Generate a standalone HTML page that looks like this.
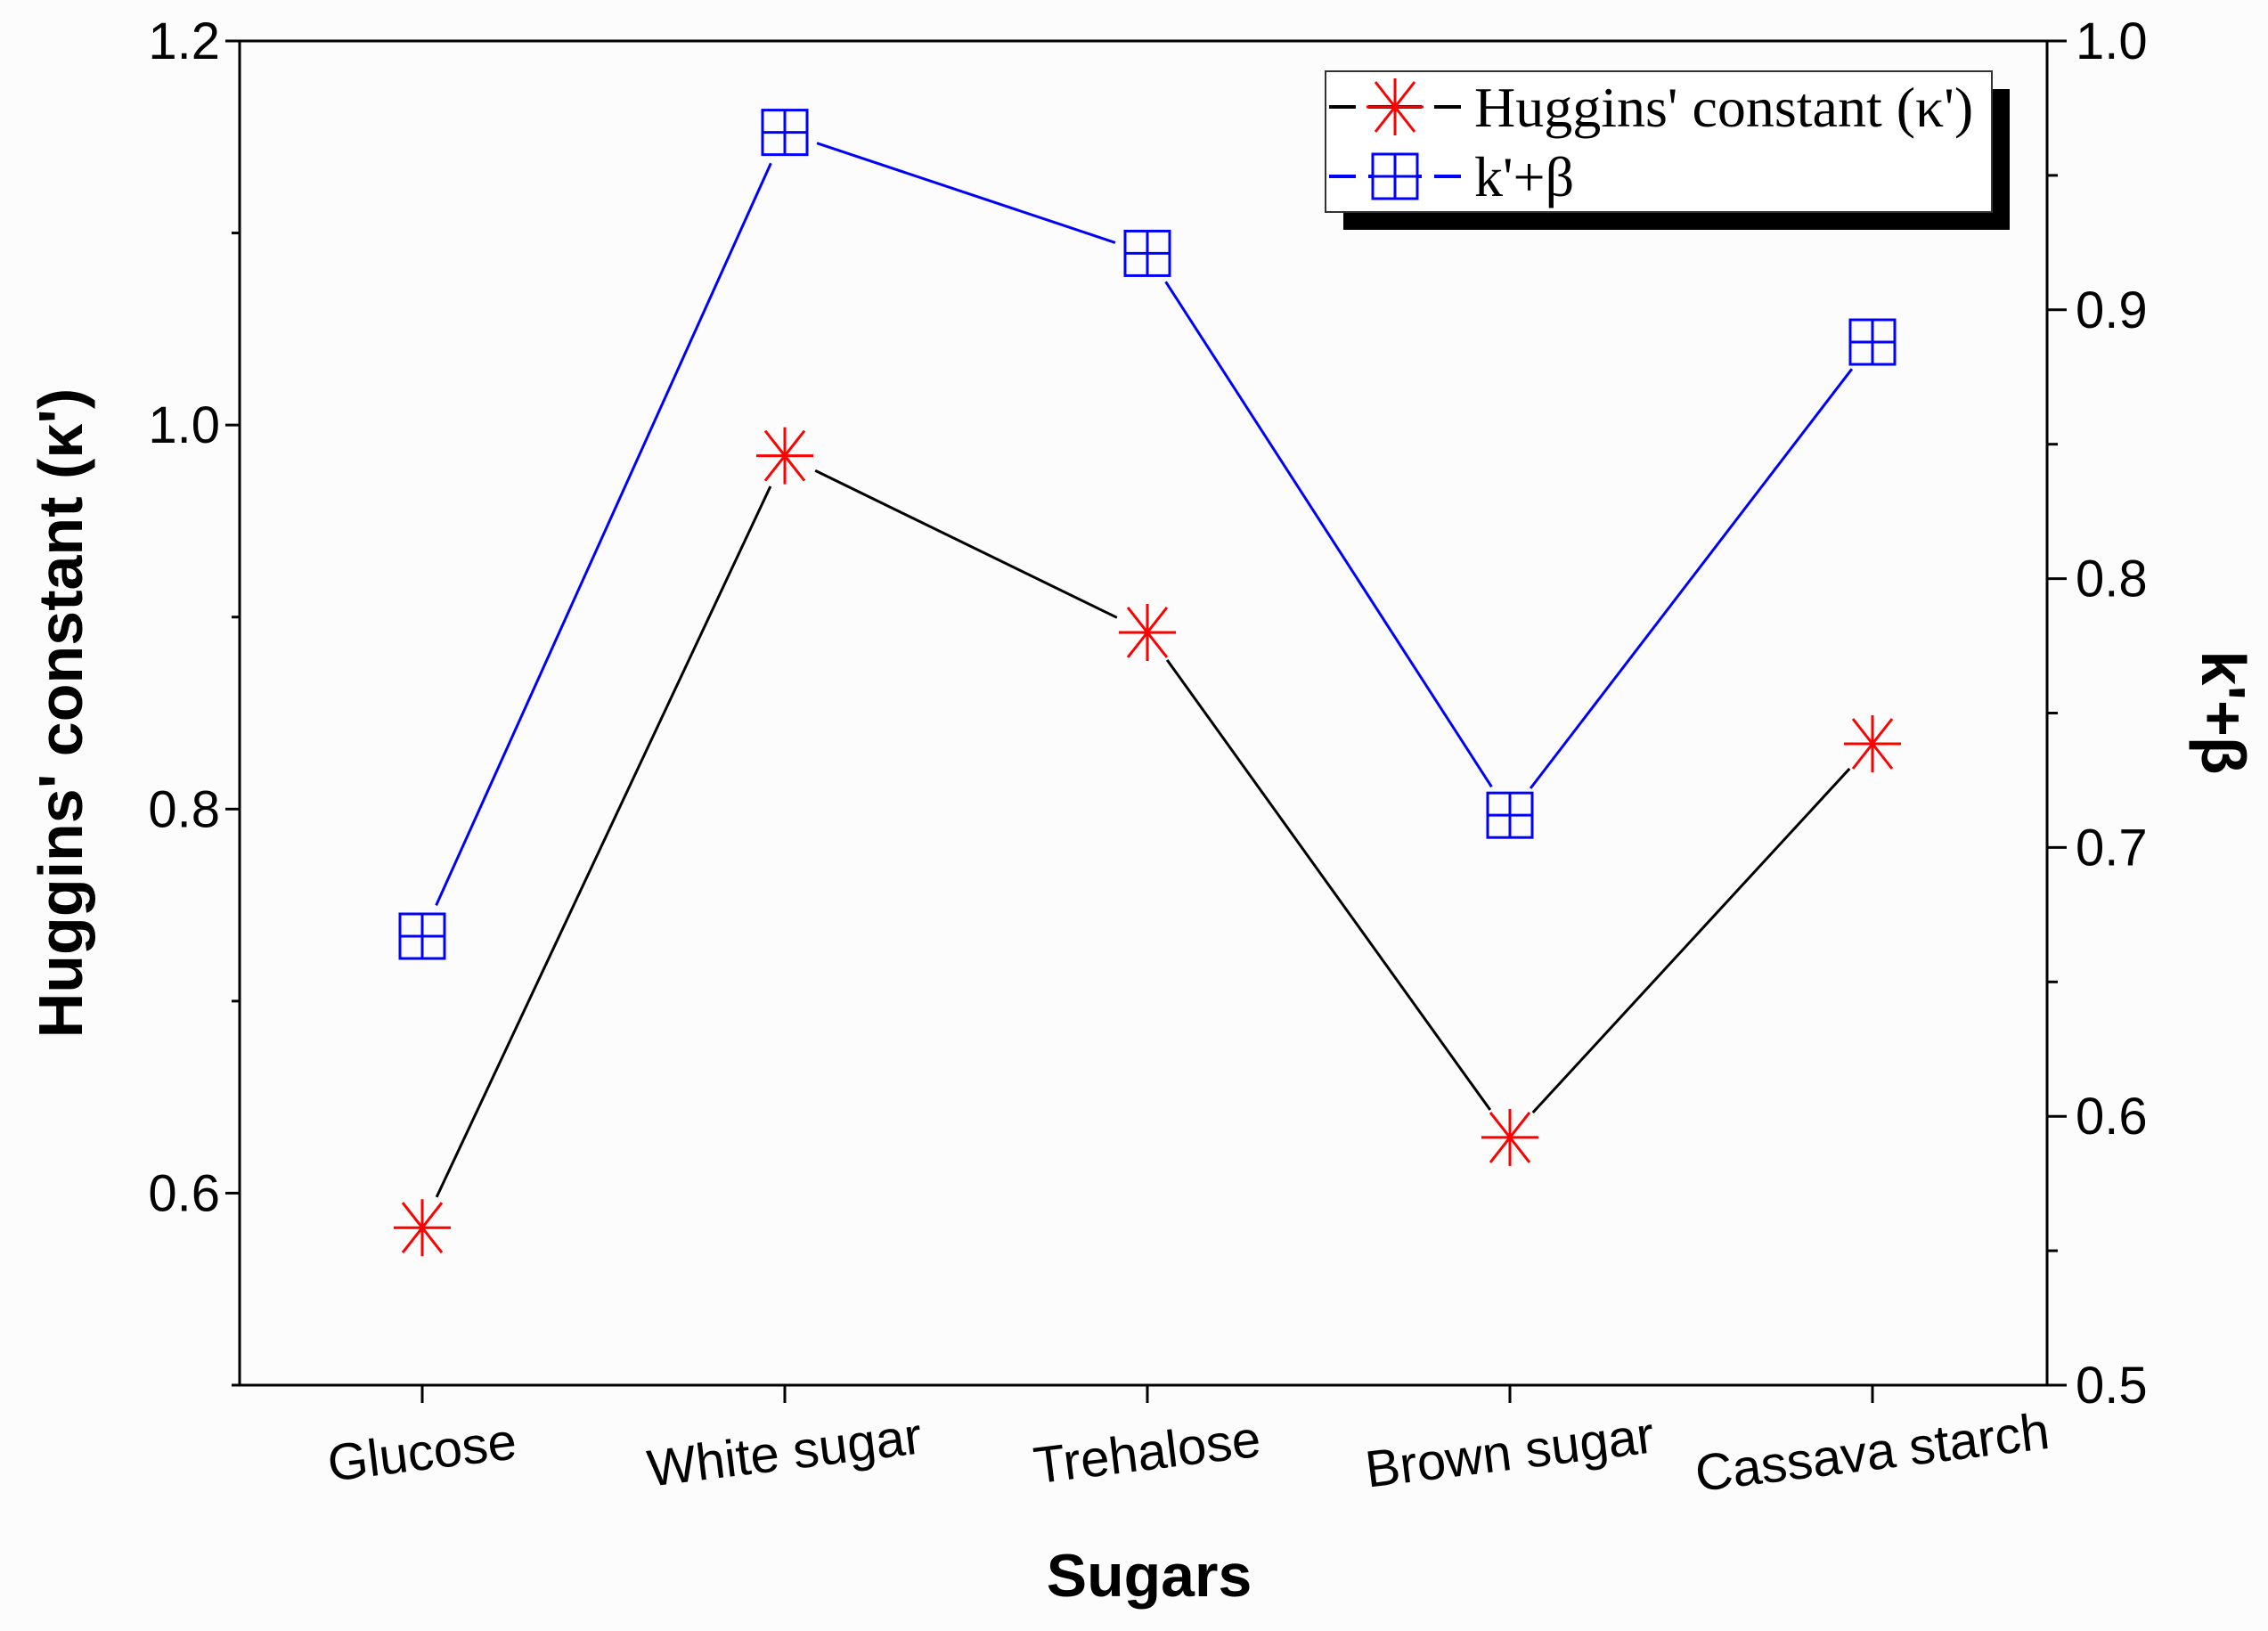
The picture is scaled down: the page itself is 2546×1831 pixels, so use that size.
<!DOCTYPE html>
<html><head><meta charset="utf-8"><style>
html,body{margin:0;padding:0;background:#fff;}
svg{display:block;}
</style></head><body>
<svg id="chart" width="2546" height="1831" viewBox="0 0 2546 1831" xmlns="http://www.w3.org/2000/svg">
<rect x="0" y="0" width="2546" height="1831" fill="#fcfcfc"/>
<g id="axes"></g>
<g id="series"></g>
<g id="legend">
  <rect x="1508" y="100" width="748" height="158" fill="#000"/>
  <rect x="1488" y="80" width="748" height="158" fill="#fff" stroke="#333" stroke-width="2"/>
  <g>
    <line x1="1492" y1="120" x2="1640" y2="120" stroke="#000" stroke-width="4" stroke-dasharray="30 14 60 14 30"/>
    <g stroke="#ff0000" stroke-width="3">
      <line x1="1566" y1="88" x2="1566" y2="152"/><line x1="1534" y1="120" x2="1598" y2="120"/>
      <line x1="1544" y1="92" x2="1588" y2="148"/><line x1="1588" y1="92" x2="1544" y2="148"/>
    </g>
    <text x="1655" y="142" font-family="Liberation Serif, serif" font-size="64" fill="#000">Huggins' constant (κ')</text>
  </g>
  <g>
    <line x1="1492" y1="198" x2="1640" y2="198" stroke="#0000ff" stroke-width="4" stroke-dasharray="30 14 60 14 30"/>
    <g stroke="#0000ff" stroke-width="3" fill="#fff">
      <rect x="1541" y="173" width="50" height="50"/>
      <line x1="1566" y1="173" x2="1566" y2="223"/><line x1="1541" y1="198" x2="1591" y2="198"/>
    </g>
    <text x="1655" y="220" font-family="Liberation Serif, serif" font-size="64" fill="#000">k'+β</text>
  </g>
</g>
</svg>
<script>
const categories = ["Glucose","White sugar","Trehalose","Brown sugar","Cassava starch"];
const hugginsValues = [0.582,0.984,0.892,0.629,0.834];
const kBetaValues = [0.667,0.966,0.921,0.712,0.888];
const leftTicks = [0.6,0.8,1.0,1.2];
const rightTicks = [0.5,0.6,0.7,0.8,0.9,1.0];

const NS="http://www.w3.org/2000/svg";
const L=269,R=2298,T=46,B=1555;
const yL=v=>B-(v-0.5)/(1.2-0.5)*(B-T);
const yR=v=>B-(v-0.5)/(1.0-0.5)*(B-T);
const xC=i=>474+i*407;
function mk(tag,attrs,parent){const e=document.createElementNS(NS,tag);for(const k in attrs)e.setAttribute(k,attrs[k]);parent.appendChild(e);return e;}
const ax=document.getElementById('axes');
const sr=document.getElementById('series');

const frame=mk('rect',{x:L,y:T,width:R-L,height:B-T,fill:'none',stroke:'#000','stroke-width':3},ax);



for(let v=0.5;v<=1.2001;v+=0.1){
  const y=yL(v);const major=Math.abs(Math.round(v*10)%2)===0;
  const t=mk('line',{x1:L-(major?16:9),y1:y,x2:L,y2:y,stroke:'#000','stroke-width':3},ax);
  
  
}
leftTicks.forEach(v=>{
  const t=mk('text',{x:L-22,y:yL(v)+20,'text-anchor':'end','font-family':'Liberation Sans, sans-serif','font-size':58,fill:'#000'},ax);
  t.textContent=v.toFixed(1);
  
  
});
for(let v=0.5;v<=1.0001;v+=0.05){
  const y=yR(v);const major=Math.abs(Math.round(v*100)%10)===0;
  const t=mk('line',{x1:R,y1:y,x2:R+(major?22:12),y2:y,stroke:'#000','stroke-width':3},ax);
  
  
}
rightTicks.forEach(v=>{
  const t=mk('text',{x:R+32,y:yR(v)+20,'font-family':'Liberation Sans, sans-serif','font-size':58,fill:'#000'},ax);
  t.textContent=v.toFixed(1);
  
  
});
categories.forEach((c,i)=>{
  const x=xC(i);
  const t=mk('line',{x1:x,y1:B,x2:x,y2:B+20,stroke:'#000','stroke-width':3},ax);
  
  
  const lb=mk('text',{x:x,y:B+95,'text-anchor':'middle','font-family':'Liberation Sans, sans-serif','font-size':58,fill:'#000',transform:`rotate(-7 ${x} ${B+78})`},ax);
  lb.textContent=c;
  
  
});
const yt=mk('text',{x:0,y:0,'text-anchor':'middle','font-family':'Liberation Sans, sans-serif','font-size':70,'font-weight':'bold',fill:'#000',transform:`translate(92 ${(T+B)/2}) rotate(-90)`},ax);
yt.textContent="Huggins' constant (κ')";


const yt2=mk('text',{x:0,y:0,'text-anchor':'middle','font-family':'Liberation Sans, sans-serif','font-size':70,'font-weight':'bold',fill:'#000',transform:`translate(2472 800) rotate(90)`},ax);
yt2.textContent="k'+β";


const xt=mk('text',{x:1290,y:1792,'text-anchor':'middle','font-family':'Liberation Sans, sans-serif','font-size':68,'font-weight':'bold',fill:'#000'},ax);
xt.textContent="Sugars";



function gapLine(pts,color,name){
  for(let i=0;i<pts.length-1;i++){
    const [x1,y1]=pts[i],[x2,y2]=pts[i+1];
    const dx=x2-x1,dy=y2-y1,d=Math.hypot(dx,dy),g=38;
    const l=mk('line',{x1:x1+dx/d*g,y1:y1+dy/d*g,x2:x2-dx/d*g,y2:y2-dy/d*g,stroke:color,'stroke-width':3},sr);
    
    
  }
}
const hp=hugginsValues.map((v,i)=>[xC(i),yL(v)]);
const kp=kBetaValues.map((v,i)=>[xC(i),yR(v)]);
gapLine(hp,'#000','huggins-line');
gapLine(kp,'#0000ff','kbeta-line');
hp.forEach(([x,y])=>{
  const g=mk('g',{stroke:'#ff0000','stroke-width':3},sr);
  
  
  mk('line',{x1:x,y1:y-32,x2:x,y2:y+32},g);
  mk('line',{x1:x-32,y1:y,x2:x+32,y2:y},g);
  mk('line',{x1:x-22,y1:y-28,x2:x+22,y2:y+28},g);
  mk('line',{x1:x+22,y1:y-28,x2:x-22,y2:y+28},g);
});
kp.forEach(([x,y])=>{
  const g=mk('g',{stroke:'#0000ff','stroke-width':3,fill:'none'},sr);
  
  
  mk('rect',{x:x-25,y:y-25,width:50,height:50},g);
  mk('line',{x1:x,y1:y-25,x2:x,y2:y+25},g);
  mk('line',{x1:x-25,y1:y,x2:x+25,y2:y},g);
});
</script>
</body></html>
